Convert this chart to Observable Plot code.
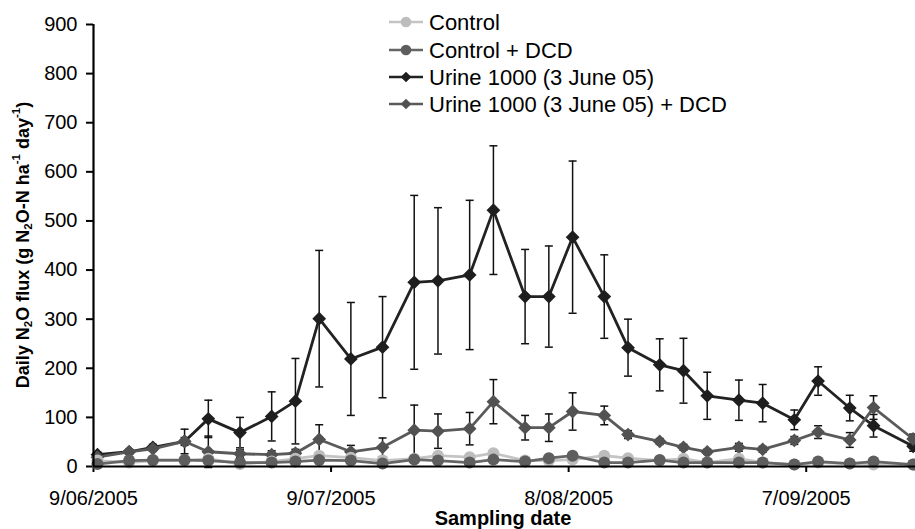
<!DOCTYPE html>
<html>
<head>
<meta charset="utf-8">
<script src="https://cdn.jsdelivr.net/npm/d3@7"></script>
<script src="https://cdn.jsdelivr.net/npm/@observablehq/plot@0.6"></script>
<style>
  html, body { margin: 0; padding: 0; background: #fff; }
  #chart { width: 915px; height: 529px; }
</style>
</head>
<body>
<div id="chart"></div>
<script>
// Sampling dates
const dates = [
  "2005-06-09","2005-06-13","2005-06-16","2005-06-20","2005-06-23","2005-06-27",
  "2005-07-01","2005-07-04","2005-07-07","2005-07-11","2005-07-15","2005-07-19",
  "2005-07-22","2005-07-26","2005-07-29","2005-08-02","2005-08-05","2005-08-08",
  "2005-08-12","2005-08-15","2005-08-19","2005-08-22","2005-08-25","2005-08-29",
  "2005-09-01","2005-09-05","2005-09-08","2005-09-12","2005-09-15","2005-09-20"
];
const control    = [12, 8, 12, 12, 16, 5, 10, 16, 22, 18, 12, 16, 22, 19, 27, 12, 12, 14, 22, 17, 12, 16, 8, 16, 8, 4, 8, 6, 4, 4];
const controlDCD = [5, 12, 13, 13, 12, 8, 8, 10, 13, 12, 6, 14, 12, 8, 14, 10, 17, 22, 8, 8, 13, 8, 8, 8, 8, 4, 10, 6, 10, 4];
const urine      = [24, 30, 39, 51, 97, 69, 102, 133, 301, 219, 243, 375, 378, 390, 522, 346, 346, 467, 346, 242, 207, 195, 144, 135, 129, 95, 174, 119, 83, 41];
const urineErr   = [5, 5, 6, 25, 38, 31, 50, 87, 139, 115, 103, 177, 149, 152, 131, 96, 103, 155, 85, 58, 53, 66, 48, 41, 38, 20, 29, 26, 23, 10];
const urineDCD   = [19, 30, 36, 51, 30, 26, 24, 27, 55, 30, 39, 74, 72, 77, 132, 79, 79, 112, 104, 65, 51, 39, 30, 39, 35, 53, 70, 54, 120, 56];
const urineDCDErr= [3, 4, 5, 8, 32, 8, 8, 8, 30, 13, 19, 51, 35, 33, 45, 25, 28, 38, 19, 8, 6, 6, 5, 8, 6, 8, 13, 15, 24, 10];
const xTickDates = ["2005-06-09","2005-07-09","2005-08-08","2005-09-07"];
const yTicks = [0, 100, 200, 300, 400, 500, 600, 700, 800, 900];
const seriesNames = ["Control", "Control + DCD", "Urine 1000 (3 June 05)", "Urine 1000 (3 June 05) + DCD"];
const seriesColors = ["#bdbdbd", "#5e5e5e", "#1e1e1e", "#525252"];
const lineColors = ["#c4c4c4", "#666666", "#222222", "#5a5a5a"];

const FONT = "'Liberation Sans', Arial, Helvetica, sans-serif";
const pt = s => new Date(s + "T12:00:00Z");
const day0 = Date.UTC(2005, 5, 9);

const rows = dates.map((d, i) => ({
  date: pt(d),
  control: control[i], controlDCD: controlDCD[i],
  urine: urine[i], urineErr: urineErr[i],
  urineDCD: urineDCD[i], urineDCDErr: urineDCDErr[i]
}));

const capSymbol = { draw(ctx) { ctx.moveTo(-4, 0); ctx.lineTo(4, 0); } };
const fmt = d => `${d.getUTCDate()}/${String(d.getUTCMonth() + 1).padStart(2, "0")}/${d.getUTCFullYear()}`;

function errMarks(key, errKey) {
  return [
    Plot.ruleX(rows, {x: "date", y1: d => d[key] - d[errKey], y2: d => d[key] + d[errKey], stroke: "#111", strokeWidth: 1.5}),
    Plot.dot(rows, {x: "date", y: d => d[key] + d[errKey], symbol: capSymbol, fill: "none", stroke: "#111", strokeWidth: 1.5}),
    Plot.dot(rows, {x: "date", y: d => d[key] - d[errKey], symbol: capSymbol, fill: "none", stroke: "#111", strokeWidth: 1.5})
  ];
}

const chart = Plot.plot({
  width: 915,
  height: 529,
  marginLeft: 93,
  marginRight: 0,
  marginTop: 24,
  marginBottom: 63,
  style: {fontFamily: FONT, fontSize: "20px", color: "#000", background: "#fff", overflow: "hidden"},
  x: {
    type: "utc",
    domain: [new Date(day0), new Date(day0 + 103.8 * 864e5)],
    ticks: xTickDates.map(s => new Date(s + "T00:00:00Z")),
    tickFormat: fmt,
    tickSize: 6,
    tickPadding: 18,
    label: null
  },
  y: {
    domain: [0, 900],
    ticks: yTicks,
    tickSize: 7,
    tickPadding: 9,
    label: null
  },
  marks: [
    ...errMarks("urine", "urineErr"),
    ...errMarks("urineDCD", "urineDCDErr"),
    Plot.line(rows, {x: "date", y: "urine", stroke: lineColors[2], strokeWidth: 2.8}),
    Plot.dot(rows, {x: "date", y: "urine", symbol: "diamond2", r: 6.2, fill: seriesColors[2], stroke: "none"}),
    Plot.line(rows, {x: "date", y: "urineDCD", stroke: lineColors[3], strokeWidth: 2.8}),
    Plot.dot(rows, {x: "date", y: "urineDCD", symbol: "diamond2", r: 6.2, fill: seriesColors[3], stroke: "none"}),
    Plot.line(rows, {x: "date", y: "control", stroke: lineColors[0], strokeWidth: 2.8}),
    Plot.dot(rows, {x: "date", y: "control", r: 6, fill: seriesColors[0], stroke: "none"}),
    Plot.line(rows, {x: "date", y: "controlDCD", stroke: lineColors[1], strokeWidth: 2.8}),
    Plot.dot(rows, {x: "date", y: "controlDCD", r: 6, fill: seriesColors[1], stroke: "none"}),
    Plot.ruleY([0], {stroke: "#000", strokeWidth: 2.2}),
    Plot.ruleX([new Date(day0)], {stroke: "#000", strokeWidth: 2.2})
  ]
});

document.getElementById("chart").appendChild(chart);

const svg = d3.select(chart);
// thicken axis ticks
svg.selectAll("[aria-label$='axis'] line, [aria-label$='axis'] path, [aria-label*='tick'] path, [aria-label*='tick'] line")
  .attr("stroke-width", 2).attr("stroke", "#000");
svg.selectAll("text").attr("fill", "#000");

// x axis title
svg.append("text")
  .attr("x", 503).attr("y", 518)
  .attr("text-anchor", "middle").attr("dominant-baseline", "central")
  .attr("font-family", FONT).attr("font-size", 20).attr("font-weight", "bold")
  .text("Sampling date");

// y axis title with sub/superscripts
const yt = svg.append("text")
  .attr("transform", "translate(23,245) rotate(-90)")
  .attr("text-anchor", "middle").attr("dominant-baseline", "central")
  .attr("font-family", FONT).attr("font-size", 18).attr("font-weight", "bold");
const parts = [
  ["Daily N", 0], ["2", 1], ["O flux (g N", 0], ["2", 1], ["O-N ha", 0], ["-1", -1], [" day", 0], ["-1", -1], [")", 0]
];
let prev = 0;
for (const [t, k] of parts) {
  const shift = k === 1 ? 5 : k === -1 ? -7 : 0;
  yt.append("tspan")
    .attr("dy", shift - prev)
    .attr("font-size", k === 0 ? 18 : 11.5)
    .text(t);
  prev = shift;
}

// legend
const legendRows = [22, 50, 77, 104];
const lg = svg.append("g");
seriesNames.forEach((name, i) => {
  const y = legendRows[i];
  lg.append("line").attr("x1", 389).attr("x2", 423).attr("y1", y).attr("y2", y)
    .attr("stroke", lineColors[i]).attr("stroke-width", 2.7);
  const sym = i < 2 ? d3.symbol(d3.symbolCircle, Math.PI * 5.3 * 5.3) : d3.symbol(d3.symbolDiamond2, Math.PI * 4.8 * 4.8);
  lg.append("path").attr("d", sym()).attr("transform", `translate(406,${y})`).attr("fill", seriesColors[i]);
  lg.append("text").attr("x", 429).attr("y", y)
    .attr("text-anchor", "start")
    .attr("dominant-baseline", "central")
    .attr("font-family", FONT).attr("font-size", 22).attr("fill", "#000")
    .text(name);
});
</script>
</body>
</html>
